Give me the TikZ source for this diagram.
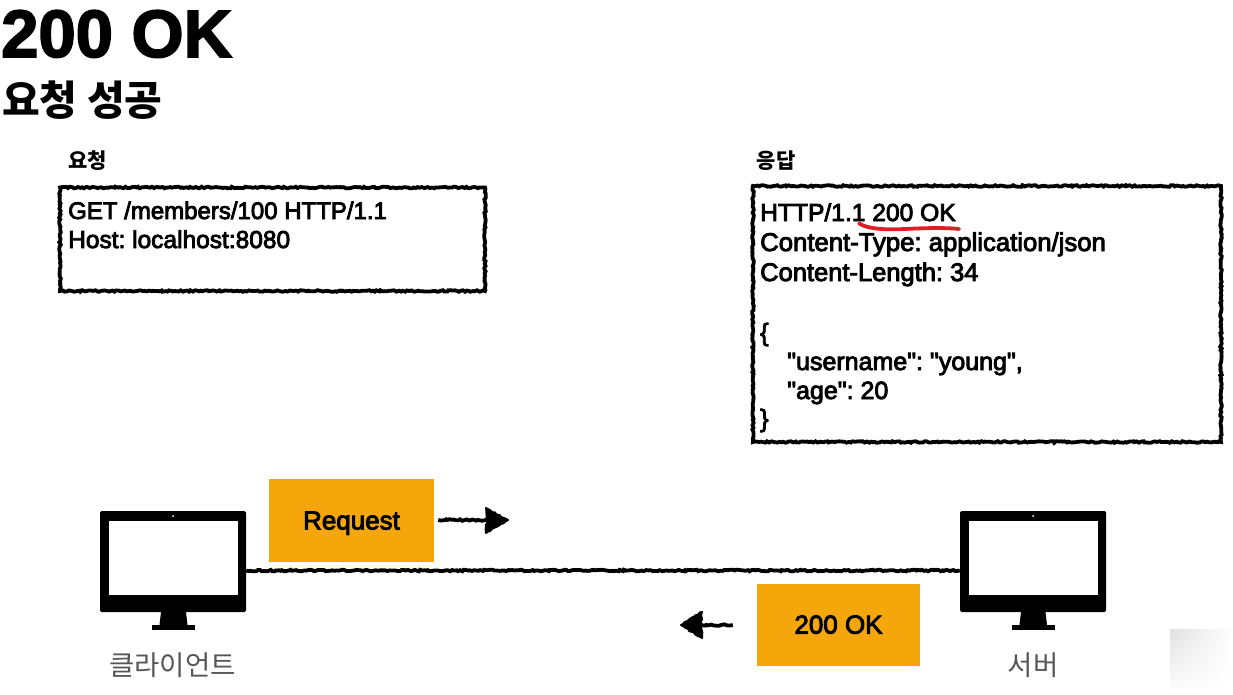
\documentclass[tikz,border=0pt]{standalone}
\usepackage{fontspec}
\setmainfont{Liberation Sans}
\newfontfamily\bodyfont[FakeBold=3.4]{Liberation Sans}
\newfontfamily\titlefont[FakeBold=2.5]{Liberation Sans Bold}
\newfontfamily\kr{Noto Sans CJK KR}
\usetikzlibrary{decorations.pathmorphing,calc,shadings}
\definecolor{tag}{HTML}{F4A60B}
\definecolor{marker}{HTML}{DD1F26}
\definecolor{captiongray}{HTML}{565656}
\tikzset{
  x=1pt,y=-1pt,
  rough/.style={draw=black,line width=3.8pt,decorate,decoration={random steps,segment length=2pt,amplitude=0.8pt}},
  roughhead/.style={fill=black,draw=black,line width=2pt,line join=round,decorate,decoration={random steps,segment length=2.5pt,amplitude=0.8pt}},
  tagbox/.style={fill=tag,draw=none,inner sep=0pt,text depth=0pt,font=\bodyfont\fontsize{26}{26}\selectfont},
  codeline/.style={anchor=base west,inner sep=0pt,font=\bodyfont\fontsize{#1}{#1}\selectfont},
  hdr/.style={anchor=center,inner sep=0pt,font=\kr\bfseries\fontsize{21}{21}\selectfont},
  captext/.style={anchor=center,inner sep=0pt,text=captiongray,font=\kr\fontsize{27.5}{27.5}\selectfont},
  bodyshape/.style={fill=black,rounded corners=1.5pt,inner sep=0pt,draw=none},
  screen/.style={fill=white,draw=none,inner sep=0pt},
}
\begin{document}
\frenchspacing
\begin{tikzpicture}
\useasboundingbox (0,0) rectangle (1233,694);
% faded corner
\shade[upper left=black!12,upper right=white,lower left=white,lower right=white] (1170,629) rectangle (1233,694);
% title
\node[anchor=base west,inner sep=0pt] (title) at (1,57) {\titlefont\fontsize{67}{67}\selectfont 200 OK};
\node[anchor=base west,inner sep=0pt] (subtitle) at (2,115) {\kr\bfseries\fontsize{41}{41}\selectfont 요청 성공};
% panels
\node[hdr] (reqlabel) at (87.5,161) {요청};
\node[hdr] (reslabel) at (776,161) {응답};
\draw[rough] (60,187.5) -- (485,187.5) -- (485,291) -- (60,291) -- cycle;
\draw[rough] (753,186) -- (1221,186) -- (1221,442) -- (753,442) -- cycle;
\node[codeline=24] (q1) at (68,219) {GET /members/100 HTTP/1.1};
\node[codeline=24.5] (q2) at (68,248) {Host: localhost:8080};
\node[codeline=24.6] (r1) at (760,221) {HTTP/1.1 200 OK};
\node[codeline=25.7] (r2) at (760,251) {Content-Type: application/json};
\node[codeline=25.5] (r3) at (760,281) {Content-Length: 34};
\node[codeline=25] (r4) at (760,341) {\{};
\node[codeline=25] (r5) at (787,370) {"username": "young",};
\node[codeline=25] (r6) at (787,399) {"age": 20};
\node[codeline=25] (r7) at (760,427) {\}};
\draw[marker,line width=3.8pt,line cap=round] (859,223.5) .. controls (868,229) and (885,230) .. (905,229) .. controls (925,228) and (945,227.5) .. (959,229);
% client monitor
\fill[black] (161,612) -- (186,612) -- (187.5,625) -- (159.5,625) -- cycle;
\fill[black] (152,625) rectangle (195,630);
\node[bodyshape,minimum width=146pt,minimum height=101pt] (client) at (173,561.5) {};
\node[screen,minimum width=129pt,minimum height=74pt] (clientscreen) at (173.2,558) {};
\fill[white] (173,516) circle (1pt);
\node[captext] (clientlabel) at (172.5,665) {클라이언트};
% server monitor
\fill[black] (1021,612) -- (1045.5,612) -- (1047,625) -- (1019.5,625) -- cycle;
\fill[black] (1012,625) rectangle (1054.5,630);
\node[bodyshape,minimum width=146pt,minimum height=101pt] (server) at (1033,561.5) {};
\node[screen,minimum width=129pt,minimum height=74pt] (serverscreen) at (1033.3,558) {};
\fill[white] (1033,516) circle (1pt);
\node[captext] (serverlabel) at (1033,665) {서버};
% connector
\draw[rough] (client.east |- 0,570.5) -- (server.west |- 0,570.5);
% tags
\node[tagbox,minimum width=165pt,minimum height=83pt] (request) at (351.5,520.5) {Request};
\node[tagbox,minimum width=163pt,minimum height=82pt] (okbox) at (838.5,624.5) {200 OK};
% arrows
\coordinate (reqtip) at (509,520);
\coordinate (oktip) at (680,625);
\draw[rough] ([xshift=4pt]request.east |- reqtip) -- ([xshift=-18pt]reqtip);
\draw[roughhead] ([xshift=-1pt]reqtip) -- ++(-22,-12) -- ++(1,12) -- ++(-1,13) -- cycle;
\draw[rough] ([xshift=-24pt]okbox.west |- oktip) -- ([xshift=18pt]oktip);
\draw[roughhead] ([xshift=1pt]oktip) -- ++(21,-13) -- ++(-1,13) -- ++(1,13) -- cycle;
\end{tikzpicture}
\end{document}
